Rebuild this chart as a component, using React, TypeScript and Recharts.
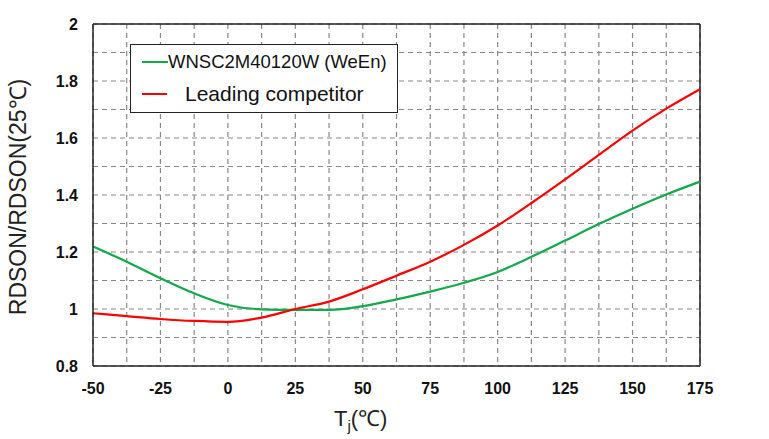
import React from "react";
import {
  CartesianGrid,
  Line,
  LineChart,
  ReferenceLine,
  XAxis,
  YAxis,
} from "recharts";

const temps = [-50, -37.5, -25, -12.5, 0, 12.5, 25, 37.5, 50, 62.5, 75, 87.5, 100, 112.5, 125, 137.5, 150, 162.5, 175];
const ween = [1.219, 1.166, 1.108, 1.055, 1.014, 0.999, 0.997, 0.997, 1.01, 1.034, 1.061, 1.092, 1.13, 1.183, 1.24, 1.298, 1.352, 1.402, 1.447];
const competitor = [0.985, 0.975, 0.965, 0.958, 0.955, 0.97, 1.0, 1.026, 1.069, 1.117, 1.166, 1.225, 1.293, 1.372, 1.455, 1.541, 1.626, 1.703, 1.771];

const xTicks = [-50, -37.5, -25, -12.5, 0, 12.5, 25, 37.5, 50, 62.5, 75, 87.5, 100, 112.5, 125, 137.5, 150, 162.5, 175];
const yTicks = [0.8, 0.9, 1.0, 1.1, 1.2, 1.3, 1.4, 1.5, 1.6, 1.7, 1.8, 1.9, 2.0];

const seriesNames = ["WNSC2M40120W (WeEn)", "Leading competitor"];

const data = temps.map((t, i) => ({ t, ween: ween[i], comp: competitor[i] }));

const GREEN = "#12a94a";
const RED = "#ff0000";
const FONT = "'Liberation Sans', Arial, sans-serif";

const tickStyle = { fontFamily: FONT, fontWeight: 700, fontSize: 16, fill: "#111" };

export default function App() {
  return (
    <div style={{ position: "absolute", left: 0, top: 0, width: 769, height: 439, background: "#fff" }}>
      <LineChart
        width={769}
        height={439}
        data={data}
        margin={{ top: 24, right: 69, left: 33, bottom: 43 }}
      >
        <CartesianGrid stroke="#888" strokeDasharray="5 4" strokeWidth={1.2} />
        <XAxis
          dataKey="t"
          type="number"
          domain={[-50, 175]}
          ticks={xTicks}
          interval={0}
          height={30}
          tickSize={0}
          tickMargin={17}
          tickLine={false}
          axisLine={{ stroke: "#222", strokeWidth: 1.5 }}
          tick={tickStyle}
          tickFormatter={(v: number) => (v % 25 === 0 ? String(v) : "")}
          label={{
            content: () => (
              <text x={334} y={426} fontFamily={FONT} fontSize={22} fill="#222">
                T<tspan fontSize={15} dy={5}>j</tspan>
                <tspan dy={-5}>(℃)</tspan>
              </text>
            ),
          }}
        />
        <YAxis
          type="number"
          domain={[0.8, 2]}
          ticks={yTicks}
          interval={0}
          width={60}
          tickSize={0}
          tickMargin={15}
          tickLine={false}
          axisLine={{ stroke: "#222", strokeWidth: 1.5 }}
          tick={tickStyle}
          tickFormatter={(v: number) =>
            Math.round(v * 10) % 2 === 0 ? String(Math.round(v * 10) / 10) : ""
          }
          label={{
            content: () => (
              <text
                x={26}
                y={197}
                transform="rotate(-90 26 197)"
                textAnchor="middle"
                fontFamily={FONT}
                fontSize={23}
                fill="#222"
              >
                RDSON/RDSON(25℃)
              </text>
            ),
          }}
        />
        <ReferenceLine y={2} stroke="#222" strokeWidth={1.5} />
        <ReferenceLine x={175} stroke="#222" strokeWidth={1.5} />
        <Line
          type="monotone"
          dataKey="ween"
          name={seriesNames[0]}
          stroke={GREEN}
          strokeWidth={2.2}
          dot={false}
          isAnimationActive={false}
        />
        <Line
          type="monotone"
          dataKey="comp"
          name={seriesNames[1]}
          stroke={RED}
          strokeWidth={2.2}
          dot={false}
          isAnimationActive={false}
        />
      </LineChart>
      <div
        style={{
          position: "absolute",
          left: 130,
          top: 44,
          width: 266,
          height: 67,
          border: "1.5px solid #222",
          background: "#fff",
          fontFamily: FONT,
          color: "#111",
        }}
      >
        <div style={{ position: "absolute", left: 11, top: 6, display: "flex", alignItems: "center" }}>
          <span style={{ display: "inline-block", width: 26, height: 2, background: GREEN }} />
          <span style={{ fontSize: 18.5 }}>{seriesNames[0]}</span>
        </div>
        <div style={{ position: "absolute", left: 11, top: 37, display: "flex", alignItems: "center" }}>
          <span style={{ display: "inline-block", width: 25, height: 2, background: RED }} />
          <span style={{ fontSize: 21, marginLeft: 18 }}>{seriesNames[1]}</span>
        </div>
      </div>
    </div>
  );
}
